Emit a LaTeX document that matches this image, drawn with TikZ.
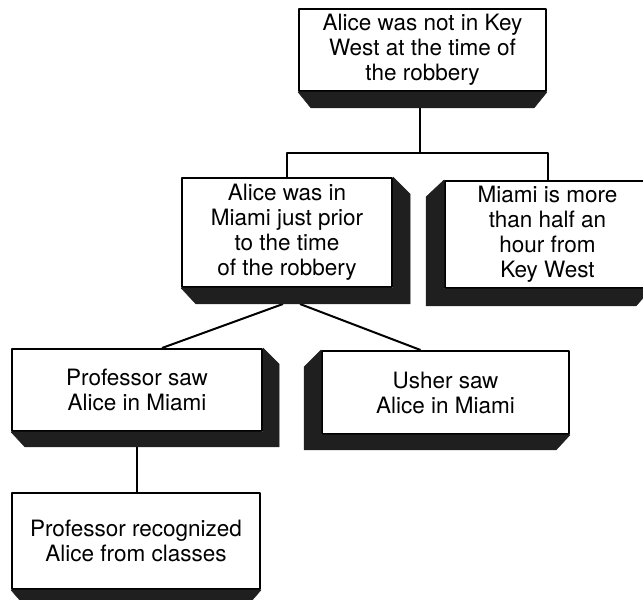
\documentclass[tikz,border=0pt]{standalone}
\usepackage{fontspec}
\setmainfont{TeX Gyre Heros}
\usetikzlibrary{calc}
\begin{document}
\begin{tikzpicture}[x=1bp,y=1bp,line join=bevel,
  claim/.style={draw,fill=white,inner sep=0pt,align=center,
    font=\fontsize{22.5bp}{25bp}\selectfont},
  boxdepth/.style={fill=black!88,draw=black!88,line width=0.5bp}]
  \pgfsetlinewidth{2bp}
  \useasboundingbox (0bp,0bp) rectangle (643bp,600bp);
  \clip (0bp,0bp) rectangle (643bp,600bp);
%%
  % Node: top
  \node[claim,minimum width=247bp,minimum height=82bp] (top) at (422.5bp,550bp)
    {Alice was not in Key\\West at the time of\\the robbery};
  % Node: miami
  \node[claim,minimum width=210bp,minimum height=109bp] (mid) at (287bp,367.5bp)
    {Alice was in\\Miami just prior\\to the time\\of the robbery};
  % Node: distance
  \node[claim,minimum width=205bp,minimum height=107bp] (dist) at (547.5bp,365.5bp)
    {Miami is more\\than half an\\hour from\\Key West};
  % Node: professor
  \node[claim,minimum width=250bp,minimum height=82bp] (prof) at (137bp,210bp)
    {Professor saw\\Alice in Miami};
  % Node: usher
  \node[claim,minimum width=247bp,minimum height=83bp] (usher) at (445.5bp,207.5bp)
    {Usher saw\\Alice in Miami};
  % Node: recognized
  \node[claim,minimum width=248bp,minimum height=96bp] (recog) at (136bp,59bp)
    {Professor recognized\\Alice from classes};
%
  \coordinate (split) at (420bp,447bp);
  % Edge: top -> mid, dist
  \draw (split |- top.south) -- (split);
  \draw (split) -| (mid.north);
  \draw (split) -| (dist.north);
  % Edge: mid -> prof
  \draw ($(mid.south)+(-4bp,-16bp)$) -- ($(prof.north)+(25bp,0bp)$);
  % Edge: mid -> usher
  \draw ($(mid.south)+(13bp,-16bp)$) -- ($(usher.north)+(-25bp,0bp)$);
  % Edge: prof -> recog
  \draw (prof.south) -- (prof.south |- recog.north);
%
  % Depth: top
  \fill[boxdepth] (top.south west) -- ++(13bp,-16bp) -- ($(top.south east)+(-13bp,-16bp)$) -- (top.south east) -- cycle;
  % Depth: mid
  \fill[boxdepth] (mid.north east) -- ++(17bp,-17bp) -- ($(mid.south east)+(17bp,-16bp)$) -- ($(mid.south west)+(15bp,-16bp)$) -- (mid.south west) -- (mid.south east) -- cycle;
  % Depth: dist
  \fill[boxdepth] (dist.north west) -- ++(-18bp,-17bp) -- ($(dist.south west)+(-18bp,-17bp)$) -- ($(dist.south east)+(-15bp,-17bp)$) -- (dist.south east) -- (dist.south west) -- cycle;
  % Depth: prof
  \fill[boxdepth] (prof.north east) -- ++(16bp,-16bp) -- ($(prof.south east)+(16bp,-15bp)$) -- ($(prof.south west)+(14bp,-15bp)$) -- (prof.south west) -- (prof.south east) -- cycle;
  % Depth: usher
  \fill[boxdepth] (usher.north west) -- ++(-17bp,-17bp) -- ($(usher.south west)+(-17bp,-15bp)$) -- ($(usher.south east)+(-14bp,-15bp)$) -- (usher.south east) -- (usher.south west) -- cycle;
  % Depth: recog
  \fill[boxdepth] (recog.south west) -- ++(13bp,-15bp) -- ($(recog.south east)+(-13bp,-15bp)$) -- (recog.south east) -- cycle;
%
\end{tikzpicture}
\end{document}
